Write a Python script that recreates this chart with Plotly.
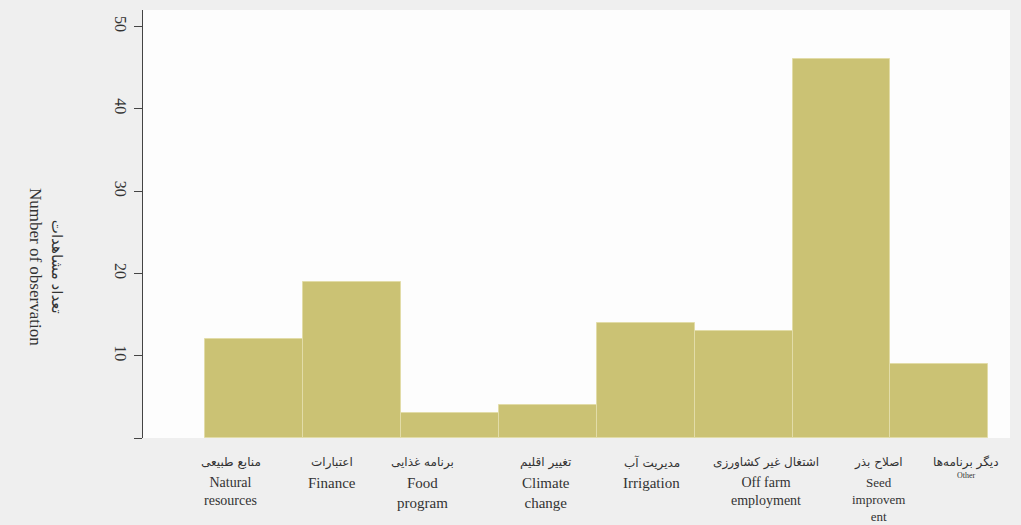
import plotly.graph_objects as go

categories_fa = ["منابع طبیعی", "اعتبارات", "برنامه غذایی", "تغییر اقلیم",
                 "مدیریت آب", "اشتغال غیر کشاورزی", "اصلاح بذر", "دیگر برنامه‌ها"]
categories_en = ["Natural<br>resources", "Finance", "Food<br>program", "Climate<br>change",
                 "Irrigation", "Off farm<br>employment", "Seed<br>improvem<br>ent", "Other"]
counts = [12, 19, 3, 4, 14, 13, 46, 9]
y_ticks = [0, 10, 20, 30, 40, 50]
y_ticktext = ["", "10", "20", "30", "40", "50"]

positions = list(range(len(counts)))

fig = go.Figure()
fig.add_trace(go.Bar(
    x=positions, y=counts, width=1.0,
    marker=dict(color="#cbc274", line=dict(color="#e2dca8", width=1)),
    showlegend=False,
))

serif = "Liberation Serif, Times New Roman, DejaVu Sans, serif"
label_shift = [-23, -20, -27, -2, 6, 22, 37, 27]
en_sizes = [14, 15, 15, 15, 15, 14, 13, 8]

annotations = []
for i, (fa, en) in enumerate(zip(categories_fa, categories_en)):
    annotations.append(dict(
        x=i, y=0, xref="x", yref="paper", yanchor="top", xanchor="center",
        yshift=-15, xshift=label_shift[i], text=fa, showarrow=False,
        font=dict(family="DejaVu Sans", size=12, color="#333333"),
    ))
    annotations.append(dict(
        x=i, y=0, xref="x", yref="paper", yanchor="top", xanchor="center",
        yshift=-35 if i != 7 else -31, xshift=label_shift[i], text=en, showarrow=False,
        font=dict(family=serif, size=en_sizes[i], color="#333333"),
    ))

annotations.append(dict(
    x=-0.138, y=0.40, xref="paper", yref="paper", showarrow=False,
    text="<span style='font-size:15px'>تعداد مشاهدات</span><br>Number of observation",
    textangle=90,
    font=dict(family=serif, size=17, color="#333333"),
))

fig.update_layout(
    width=1021, height=525,
    margin=dict(l=143, r=11, t=10, b=87),
    paper_bgcolor="#efefef",
    plot_bgcolor="#fdfdfd",
    bargap=0,
    xaxis=dict(range=[-1.13, 7.72], showticklabels=False, showgrid=False,
               zeroline=False, showline=False, ticks=""),
    yaxis=dict(range=[0, 52], tickvals=y_ticks, ticktext=y_ticktext,
               tickangle=90, ticks="outside", ticklen=8, tickcolor="#444444",
               showline=True, linecolor="#444444", linewidth=1,
               showgrid=False, zeroline=False,
               tickfont=dict(family=serif, size=16, color="#333333")),
    annotations=annotations,
)

fig.write_html("out.html", config={"displayModeBar": False},
               post_script="document.body.style.margin='0';")
